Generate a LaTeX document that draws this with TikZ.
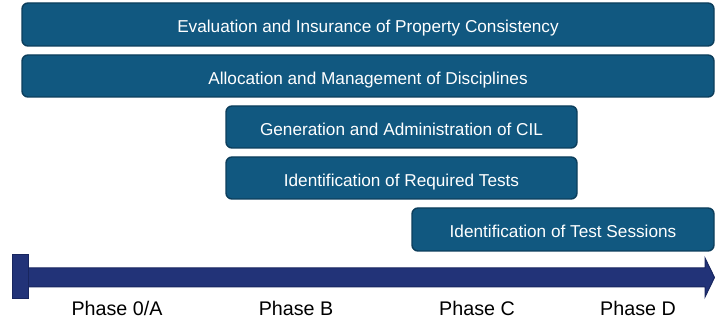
\documentclass[tikz,border=0pt]{standalone}
\usepackage{fontspec}
\setmainfont{Liberation Sans}
\definecolor{taskblue}{RGB}{17,88,128}
\definecolor{taskedge}{RGB}{12,62,92}
\definecolor{timeblue}{RGB}{34,51,120}
\definecolor{timeedge}{RGB}{24,38,95}
\begin{document}
\begin{tikzpicture}[x=1pt,y=-1pt,
  task/.style={draw=taskedge,line width=1.4pt,fill=taskblue,rounded corners=6pt,
    text=white,font=\fontsize{17.2}{20}\selectfont,inner sep=0pt,
    text height=17pt,text depth=0pt},
  phase/.style={font=\fontsize{19.7}{23}\selectfont,anchor=base,inner sep=0pt}]
  \useasboundingbox (0,0) rectangle (715,320);
  \node[task,minimum width=692pt,minimum height=43pt] (eval) at (368,24.5)
    {Evaluation and Insurance of Property Consistency};
  \node[task,minimum width=692pt,minimum height=42pt] (alloc) at (368,76)
    {Allocation and Management of Disciplines};
  \node[task,minimum width=351pt,minimum height=42pt] (cil) at (401.5,127)
    {Generation and Administration of CIL};
  \node[task,minimum width=351pt,minimum height=42pt] (reqtests) at (401.5,178)
    {Identification of Required Tests};
  \node[task,minimum width=302pt,minimum height=43pt] (sessions) at (563,229.5)
    {Identification of Test Sessions};
  % timeline
  \draw[timeedge,fill=timeblue,line width=1pt]
    (28,268) -- (705,268) -- (705,258) -- (714.5,277.5) -- (705,297) -- (705,287) -- (28,287) -- cycle;
  \draw[timeedge,fill=timeblue,line width=1pt] (12.5,255) rectangle (28,299);
  \node[phase] (p0a) at (117,316) {Phase 0/A};
  \node[phase] (pb) at (296,316) {Phase B};
  \node[phase] (pc) at (477,316) {Phase C};
  \node[phase] (pd) at (638,316) {Phase D};
\end{tikzpicture}
\end{document}
